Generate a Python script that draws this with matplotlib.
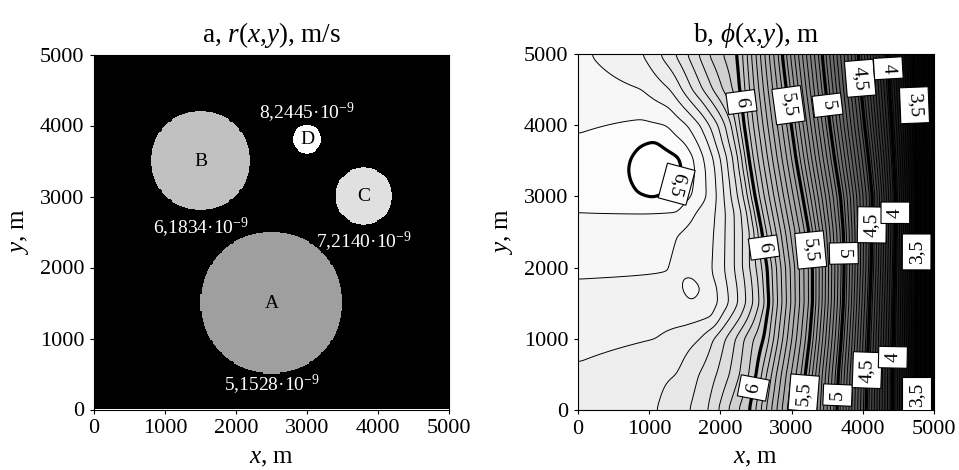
import numpy as np
import matplotlib.pyplot as plt

plt.rcParams['font.family'] = ['Liberation Serif', 'DejaVu Serif']
plt.rcParams['mathtext.fontset'] = 'custom'
plt.rcParams['mathtext.rm'] = 'Liberation Serif'
plt.rcParams['mathtext.it'] = 'Liberation Serif:italic'

# ---- panel a: zones of the leakage coefficient r(x, y)
zone_names = ['A', 'B', 'C', 'D']
zone_x = [2500, 1500, 3800, 3000]
zone_y = [1500, 3500, 3000, 3800]
zone_r = [1000, 700, 400, 200]
zone_k = [5.1528e-9, 6.1834e-9, 7.2140e-9, 8.2445e-9]
# where each value note goes: gap (m) below (-) or above (+) the circle
note_gap = [-150, -240, -240, 170]

# ---- panel b: head phi(x, y)
# x-position (m) of the labelled isolines, sampled at line_y
line_y = [0, 500, 1000, 1500, 2000, 2500, 3000, 3500, 4000, 4500, 5000]
x_h60 = [2420, 2510, 2620, 2680, 2660, 2580, 2480, 2400, 2330, 2280, 2250]
x_h55 = [3160, 3200, 3260, 3300, 3300, 3250, 3160, 3070, 3000, 2930, 2870]
x_h50 = [3640, 3660, 3700, 3730, 3740, 3730, 3690, 3610, 3540, 3480, 3430]
x_h45 = [4050, 4060, 4080, 4100, 4120, 4130, 4140, 4090, 4030, 3980, 3940]
x_h40 = [4420, 4420, 4430, 4440, 4450, 4460, 4460, 4440, 4410, 4380, 4350]
x_h35 = [4740, 4740, 4740, 4740, 4740, 4740, 4740, 4730, 4720, 4700, 4690]
head_east = 3.3

# (x, head) pairs west of the 6 m isoline along single rows
west_rows = {
    0:    [(0, 6.33), (1130, 6.30), (1575, 6.25), (1830, 6.20), (1970, 6.15), (2110, 6.10), (2250, 6.05)],
    500:  [(0, 6.34), (1400, 6.30), (1700, 6.25), (1950, 6.20), (2130, 6.15), (2270, 6.10), (2400, 6.05)],
    1000: [(0, 6.37), (1100, 6.35), (1720, 6.30), (1900, 6.25), (2070, 6.20), (2210, 6.15), (2330, 6.10), (2460, 6.05)],
    1300: [(0, 6.375), (1500, 6.37), (1900, 6.35), (2000, 6.30), (2140, 6.25), (2280, 6.20), (2390, 6.15), (2490, 6.10), (2570, 6.05)],
    1500: [(0, 6.38), (1300, 6.38), (1600, 6.397), (1800, 6.38), (1980, 6.35), (2120, 6.30), (2250, 6.25), (2360, 6.20), (2460, 6.15), (2550, 6.10), (2620, 6.05)],
    1710: [(0, 6.39), (1300, 6.385), (1470, 6.40), (1600, 6.42), (1730, 6.40), (1820, 6.38), (1960, 6.35), (2100, 6.30), (2240, 6.25), (2350, 6.20), (2450, 6.15), (2540, 6.10), (2600, 6.05)],
    1900: [(0, 6.405), (1250, 6.40), (1600, 6.397), (1900, 6.35), (2070, 6.30), (2210, 6.25), (2330, 6.20), (2430, 6.15), (2520, 6.10), (2590, 6.05)],
    2000: [(0, 6.41), (1300, 6.40), (1600, 6.385), (1900, 6.35), (2060, 6.30), (2200, 6.25), (2310, 6.20), (2410, 6.15), (2500, 6.10), (2580, 6.05)],
    2500: [(0, 6.43), (1440, 6.40), (1930, 6.35), (2200, 6.25), (2420, 6.15)],
    2770: [(0, 6.45), (900, 6.452), (1400, 6.45), (1650, 6.40), (1940, 6.35), (2200, 6.25), (2380, 6.15)],
    3000: [(0, 6.465), (1050, 6.505), (1400, 6.48), (1600, 6.45), (1810, 6.40), (1950, 6.35), (2150, 6.25), (2330, 6.15)],
    3200: [(0, 6.468), (760, 6.50), (1100, 6.53), (1440, 6.50), (1625, 6.45), (1800, 6.40), (1940, 6.35), (2130, 6.25), (2300, 6.15)],
    3370: [(0, 6.47), (730, 6.50), (1100, 6.55), (1470, 6.50), (1645, 6.45), (1790, 6.40), (1930, 6.35), (2110, 6.25), (2270, 6.15)],
    3550: [(0, 6.47), (765, 6.50), (1100, 6.53), (1435, 6.50), (1620, 6.45), (1760, 6.40), (1900, 6.35), (2090, 6.25), (2250, 6.15)],
    3750: [(0, 6.46), (1080, 6.505), (1500, 6.45), (1680, 6.40), (1830, 6.35), (2030, 6.25), (2210, 6.15)],
    4000: [(0, 6.44), (450, 6.45), (900, 6.46), (1250, 6.45), (1540, 6.40), (1720, 6.35), (1970, 6.25), (2160, 6.15)],
    4500: [(0, 6.43), (900, 6.40), (1300, 6.35), (1460, 6.30), (1600, 6.25), (1750, 6.20), (1890, 6.15), (2030, 6.10), (2170, 6.05)],
    5000: [(0, 6.42), (170, 6.40), (910, 6.35), (1150, 6.30), (1360, 6.25), (1530, 6.20), (1690, 6.15), (1830, 6.10), (2030, 6.05)],
}

label_levels = [3.5, 4.0, 4.5, 5.0, 5.5, 6.0, 6.5]
label_pos = [(2180, 4310), (2670, 2290), (2460, 310),
             (2950, 4280), (3290, 2250), (3170, 240),
             (3500, 4280), (3730, 2200), (3640, 210),
             (3970, 4660), (4130, 2600), (4060, 560),
             (4360, 4800), (4460, 2770), (4430, 740),
             (4710, 4280), (4740, 2220), (4740, 210),
             (1365, 3190)]

# grey shade of the head bands
shade_head = [3.3, 3.5, 4.0, 4.5, 5.0, 5.5, 6.0, 6.2, 6.4, 6.5]
shade_grey = [0.0, 0.02, 0.15, 0.30, 0.47, 0.62, 0.78, 0.88, 0.96, 1.0]


def comma(v, digits):
    return f'{v:.{digits}f}'.replace('.', ',')


# build r(x, y) on a fine grid
nc = 320
xc = (np.arange(nc) + 0.5) * 5000 / nc
XC, YC = np.meshgrid(xc, xc)
r_field = np.zeros_like(XC)
for cx, cy, rad, k in zip(zone_x, zone_y, zone_r, zone_k):
    r_field[(XC - cx) ** 2 + (YC - cy) ** 2 <= rad ** 2] = k

# build phi(x, y) on a 10 m grid
xf = np.linspace(0, 5000, 501)
yf = np.linspace(0, 5000, 501)
east = [x_h60, x_h55, x_h50, x_h45, x_h40, x_h35]
east_heads = [6.0, 5.5, 5.0, 4.5, 4.0, 3.5]
row_y = sorted(west_rows)
rows = []
for y in row_y:
    px = [p[0] for p in west_rows[y]]
    pv = [p[1] for p in west_rows[y]]
    for xs, h in zip(east, east_heads):
        px.append(np.interp(y, line_y, xs))
        pv.append(h)
    px.append(5000)
    pv.append(head_east)
    rows.append(np.interp(xf, px, pv))
rows = np.array(rows)
phi = np.empty((yf.size, xf.size))
for j in range(xf.size):
    phi[:, j] = np.interp(yf, row_y, rows[:, j])


def smooth(a, s):
    k = np.exp(-0.5 * (np.arange(-3 * s, 3 * s + 1) / s) ** 2)
    k /= k.sum()
    a = np.pad(a, 3 * s, mode='reflect')
    a = np.apply_along_axis(lambda v: np.convolve(v, k, mode='valid'), 0, a)
    a = np.apply_along_axis(lambda v: np.convolve(v, k, mode='valid'), 1, a)
    return a


phi = smooth(phi, 5)
XF, YF = np.meshgrid(xf, yf)

fig = plt.figure(figsize=(9.59, 4.70), dpi=100)
ax1 = fig.add_axes([94 / 959, 60 / 470, 355 / 959, 356 / 470])
ax2 = fig.add_axes([578 / 959, 60 / 470, 356 / 959, 356 / 470])

# panel a
ax1.imshow(r_field, origin='lower', extent=[0, 5000, 0, 5000], cmap='gray',
           vmin=0, vmax=max(zone_k), interpolation='nearest')
for name, cx, cy, rad, k, gap in zip(zone_names, zone_x, zone_y, zone_r, zone_k, note_gap):
    ax1.text(cx, cy, name, ha='center', va='center', fontsize=14, color='black')
    ty = cy + np.sign(gap) * rad + gap
    ax1.text(cx, ty, comma(k * 1e9, 4) + '·$10^{-9}$', ha='center', va='center',
             fontsize=14, color='white')
ax1.set_title('a, $r$($x$,$y$), m/s', fontsize=19.5, pad=9)

# panel b
levels = np.round(np.arange(3.25, 6.61, 0.05), 2)
band_mid = (levels[:-1] + levels[1:]) / 2
band_colors = [str(g) for g in np.interp(band_mid, shade_head, shade_grey)]
thin = [v for v in levels if abs(v * 2 - round(v * 2)) > 1e-6]
ax2.contourf(XF, YF, phi, levels=levels, colors=band_colors)
ax2.contour(XF, YF, phi, levels=thin, colors='black', linewidths=0.7)
cs = ax2.contour(XF, YF, phi, levels=label_levels, colors='black', linewidths=2.3)
ax2.set_title(r'b, $\phi$($x$,$y$), m', fontsize=19.5, pad=9)

for ax in (ax1, ax2):
    ax.set_xlim(0, 5000)
    ax.set_ylim(0, 5000)
    ax.set_xticks(range(0, 5001, 1000))
    ax.set_yticks(range(0, 5001, 1000))
    ax.tick_params(direction='out', length=3, width=0.8, labelsize=16, pad=4)
    ax.set_xlabel('$x$, m', fontsize=18, labelpad=6)
    ax.set_ylabel('$y$, m', fontsize=18, labelpad=6)

labels = ax2.clabel(cs, fmt=lambda v: comma(v, 1).rstrip('0').rstrip(','),
                    manual=label_pos, inline=False, fontsize=14)
for t in labels:
    t.set_bbox(dict(boxstyle='square,pad=0.3', fc='white', ec='black', lw=0.8))
    t.set_zorder(5)
    if t.get_text() == '6,5':
        t.set_rotation(-105)

fig.savefig('out.png', dpi=100)
